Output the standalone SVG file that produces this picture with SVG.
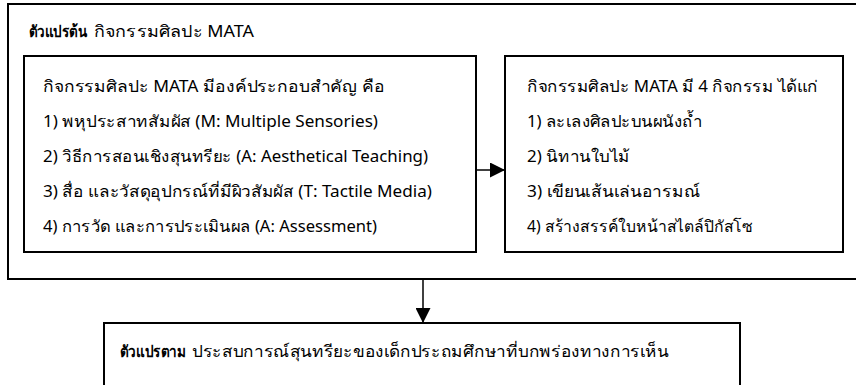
<svg xmlns="http://www.w3.org/2000/svg" width="856" height="385" viewBox="0 0 856 385">
<style>
  .box { fill: #fff; stroke: #000; stroke-width: 2; }
  .t { font-family: "Noto Sans", "DejaVu Sans", "Liberation Sans", sans-serif; font-size: 16px; fill: #000; }
  .b { font-weight: bold; }
  .conn { stroke: #000; stroke-width: 1.5; fill: none; }
</style>
<defs>
  <marker id="ah" markerWidth="15" markerHeight="15" refX="15" refY="7.5" orient="auto" markerUnits="userSpaceOnUse" viewBox="0 0 15 15">
    <path d="M0,0 L15,7.5 L0,15 Z" fill="#000"/>
  </marker>
</defs>
<g id="outer">
  <rect class="box" x="8" y="4" width="860" height="275"/>
  <text class="t b" x="29" y="37" textLength="58" lengthAdjust="spacingAndGlyphs">ตัวแปรต้น</text>
  <text class="t" x="94" y="37" textLength="160" lengthAdjust="spacingAndGlyphs">กิจกรรมศิลปะ MATA</text>
</g>
<g id="components">
  <rect class="box" x="24" y="56" width="452" height="196"/>
  <text class="t" x="43" y="92" textLength="342" lengthAdjust="spacingAndGlyphs">กิจกรรมศิลปะ MATA มีองค์ประกอบสำคัญ คือ</text>
  <text class="t" x="43" y="127" textLength="335" lengthAdjust="spacingAndGlyphs">1) พหุประสาทสัมผัส (M: Multiple Sensories)</text>
  <text class="t" x="43" y="162" textLength="385" lengthAdjust="spacingAndGlyphs">2) วิธีการสอนเชิงสุนทรียะ (A: Aesthetical Teaching)</text>
  <text class="t" x="43" y="197" textLength="389" lengthAdjust="spacingAndGlyphs">3) สื่อ และวัสดุอุปกรณ์ที่มีผิวสัมผัส (T: Tactile Media)</text>
  <text class="t" x="43" y="232" textLength="334" lengthAdjust="spacingAndGlyphs">4) การวัด และการประเมินผล (A: Assessment)</text>
</g>
<g id="activities">
  <rect class="box" x="505" y="56" width="338" height="196"/>
  <text class="t" x="527" y="92" textLength="291" lengthAdjust="spacingAndGlyphs">กิจกรรมศิลปะ MATA มี 4 กิจกรรม ได้แก่</text>
  <text class="t" x="527" y="127" textLength="175" lengthAdjust="spacingAndGlyphs">1) ละเลงศิลปะบนผนังถ้ำ</text>
  <text class="t" x="527" y="162" textLength="103" lengthAdjust="spacingAndGlyphs">2) นิทานใบไม้</text>
  <text class="t" x="527" y="197" textLength="173" lengthAdjust="spacingAndGlyphs">3) เขียนเส้นเล่นอารมณ์</text>
  <text class="t" x="527" y="232" textLength="226" lengthAdjust="spacingAndGlyphs">4) สร้างสรรค์ใบหน้าสไตล์ปิกัสโซ</text>
</g>
<g id="dependent">
  <rect class="box" x="104" y="323" width="636" height="70"/>
  <text class="t b" x="120" y="357" textLength="66" lengthAdjust="spacingAndGlyphs">ตัวแปรตาม</text>
  <text class="t" x="192" y="357" textLength="477" lengthAdjust="spacingAndGlyphs">ประสบการณ์สุนทรียะของเด็กประถมศึกษาที่บกพร่องทางการเห็น</text>
</g>
<g id="connectors">
  <line class="conn" x1="476" y1="170" x2="505" y2="170" marker-end="url(#ah)"/>
  <line class="conn" x1="423" y1="280" x2="423" y2="323" marker-end="url(#ah)"/>
</g>
</svg>
